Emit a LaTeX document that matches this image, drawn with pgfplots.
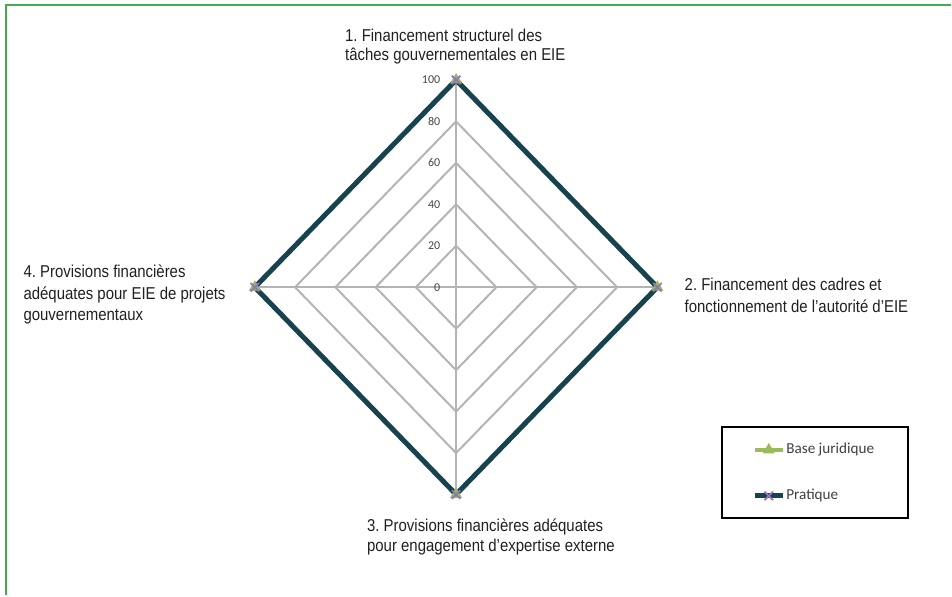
\documentclass[border=0pt]{standalone}
\usepackage{fontspec}
\setmainfont{Liberation Sans}
\newfontfamily\labelfont{Liberation Sans}[FakeStretch=0.87]
\newfontfamily\calibri{Carlito}
\usepackage{pgfplots}
\pgfplotsset{compat=1.18}
\frenchspacing
\definecolor{gridgray}{RGB}{180,180,180}
\definecolor{pratcol}{RGB}{24,66,78}
\definecolor{basegreen}{RGB}{155,187,89}
\definecolor{xpurple}{RGB}{145,115,195}
\definecolor{bordergreen}{RGB}{70,170,80}
\definecolor{labeltext}{RGB}{35,31,32}
\definecolor{tickgray}{RGB}{70,70,70}
\definecolor{legtext}{RGB}{64,64,64}
\begin{document}
\begin{tikzpicture}
\begin{axis}[
  scale only axis, width=476pt, height=298pt,
  xmin=-226.6, xmax=245.9, ymin=-148.7, ymax=138.6,
  hide axis, clip=false,
  legend style={at={(axis cs:131.8,-67.2)}, anchor=north west, draw=black, line width=1pt,
    inner xsep=15pt, inner ysep=8pt, row sep=16.5pt, column sep=0.5pt,
    font=\calibri\fontsize{7.6}{8}\selectfont, text=legtext,
    nodes={inner sep=0pt, text height=5pt, text depth=1.5pt}},
  legend cell align=left,
  legend image code/.code={\draw[mark repeat=2, mark phase=2, #1] plot coordinates {(0pt,0pt) (7pt,0pt) (14pt,0pt)};},
]
\path (axis cs:-226.6,-148.7) rectangle (axis cs:245.9,138.6);
% grid diamonds
\pgfplotsinvokeforeach{20,40,60,80,100}{
  \addplot[gridgray, line width=1pt, forget plot] coordinates {(0,#1) (#1,0) (0,-#1) (-#1,0)} -- cycle;
}
\addplot[gridgray, line width=1pt, forget plot] coordinates {(0,-100) (0,100)};
\addplot[gridgray, line width=1pt, forget plot] coordinates {(-100,0) (100,0)};
% tick labels
\pgfplotsinvokeforeach{0,20,40,60,80,100}{
  \node[anchor=east, inner sep=0pt, font=\calibri\fontsize{6}{6}\selectfont, text=tickgray] at (axis cs:-7.7,#1) {#1};
}
% series
\addplot[basegreen, line width=2pt, line join=miter, mark=triangle*, mark size=3pt,
  mark options={fill=basegreen, draw=basegreen, line width=0.5pt}]
  coordinates {(0,100) (100,0) (0,-100) (-100,0)} -- cycle;
\addlegendentry{\makebox[46pt][l]{Base juridique}}
\addplot[pratcol, line width=2.5pt, line join=miter, mark=x, mark size=3pt,
  mark options={draw=xpurple, line width=0.9pt}]
  coordinates {(0,100) (100,0) (0,-100) (-100,0)} -- cycle;
\addlegendentry{\makebox[46pt][l]{Pratique}}
% category labels (base anchor = last line baseline)
\node[anchor=base west, align=left, inner sep=0pt, font=\labelfont\fontsize{8.6}{9.2}\selectfont, text=labeltext]
  at (axis cs:-55.3,109.6) {1. Financement structurel des\\tâches gouvernementales en EIE};
\node[anchor=base west, align=left, inner sep=0pt, font=\labelfont\fontsize{8.6}{11}\selectfont, text=labeltext]
  at (axis cs:113.4,-12.3) {2. Financement des cadres et\\fonctionnement de l’autorité d’EIE};
\node[anchor=base west, align=left, inner sep=0pt, font=\labelfont\fontsize{8.6}{10.2}\selectfont, text=labeltext]
  at (axis cs:-44.4,-127.5) {3. Provisions financières adéquates\\pour engagement d’expertise externe};
\node[anchor=base west, align=left, inner sep=0pt, font=\labelfont\fontsize{8.6}{10.75}\selectfont, text=labeltext]
  at (axis cs:-215.1,-16.1) {4. Provisions financières\\adéquates pour EIE de projets\\gouvernementaux};
% border
\draw[bordergreen, line width=1pt] (axis cs:-223.6,-148.7) -- (axis cs:-223.6,136.1) -- (axis cs:245.9,136.1);
\end{axis}
\end{tikzpicture}
\end{document}
